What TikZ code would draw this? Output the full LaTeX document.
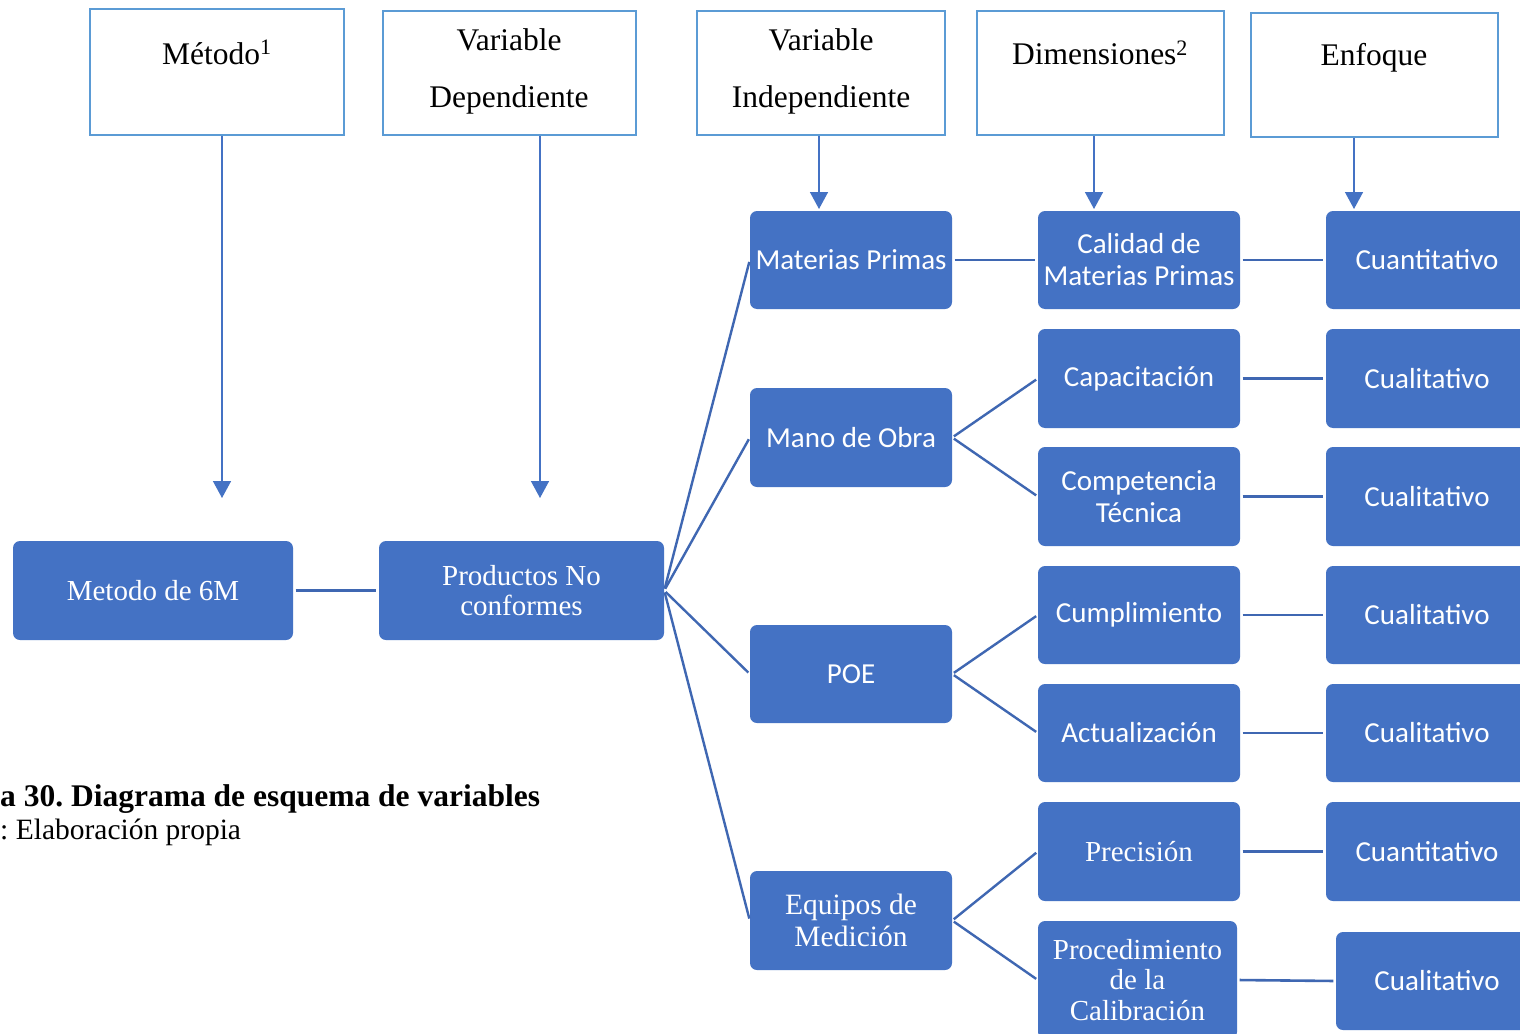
\documentclass[tikz,border=0pt]{standalone}
\usepackage{fontspec}
\setmainfont{Liberation Serif}
\newfontfamily\calibri{Carlito}
\usetikzlibrary{arrows.meta}
\definecolor{boxblue}{HTML}{4472C4}
\definecolor{hdrblue}{HTML}{5B9BD5}
\definecolor{linkblue}{HTML}{3F67B2}
\frenchspacing
\begin{document}
\begin{tikzpicture}[x=1pt,y=-1pt,
  hdrbox/.style={draw=hdrblue,line width=2.6pt,inner sep=0pt},
  hdrtext/.style={anchor=base,inner sep=0pt,font=\fontsize{31.5}{34}\selectfont},
  blk/.style={fill=boxblue,rounded corners=7pt,text=white,align=center,inner sep=0pt,
    minimum width=202pt,minimum height=98pt},
  sans/.style={font=\calibri\fontsize{29}{32}\selectfont},
  serif/.style={font=\fontsize{29}{30.5}\selectfont},
  arr/.style={draw=boxblue,line width=1.5pt,-{Triangle[width=18pt,length=17pt]}},
  link/.style={draw=linkblue,line width=2.6pt,shorten <=2.5pt,shorten >=2.5pt},
  slant/.style={draw=linkblue,line width=2.4pt,shorten <=2pt,shorten >=2pt}]
\useasboundingbox (0,0) rectangle (1520,1033);
\clip (0,0) rectangle (1520,1033);
\fill[white] (0,0) rectangle (1520,1033);

% header boxes
\node[hdrbox,minimum width=254pt,minimum height=126pt] (h1) at (217,72) {};
\node[hdrbox,minimum width=253pt,minimum height=124pt] (h2) at (509.5,73) {};
\node[hdrbox,minimum width=248pt,minimum height=124pt] (h3) at (821,73) {};
\node[hdrbox,minimum width=247pt,minimum height=124pt] (h4) at (1100.5,73) {};
\node[hdrbox,minimum width=247pt,minimum height=124pt] (h5) at (1374.5,75) {};

% header labels
\node[hdrtext] (t1) at (217,64) {Método\textsuperscript{1}};
\node[hdrtext] (t2a) at (509,51) {Variable};
\node[hdrtext] (t2b) at (509,107) {Dependiente};
\node[hdrtext] (t3a) at (821,51) {Variable};
\node[hdrtext] (t3b) at (821,107) {Independiente};
\node[hdrtext] (t4) at (1100,65) {Dimensiones\textsuperscript{2}};
\node[hdrtext] (t5) at (1374,66) {Enfoque};

% arrow ends
\coordinate (a1) at (222,498);
\coordinate (a2) at (540,498);
\coordinate (a3) at (819,209);
\coordinate (a4) at (1094,209);
\coordinate (a5) at (1354,209);
\draw[arr] (h1.south -| a1) -- (a1);
\draw[arr] (h2.south -| a2) -- (a2);
\draw[arr] (h3.south -| a3) -- (a3);
\draw[arr] (h4.south -| a4) -- (a4);
\draw[arr] (h5.south -| a5) -- (a5);

% main boxes
\node[blk,serif,minimum width=280pt,minimum height=99pt] (m6) at (153,590.5) {Metodo de 6M};
\node[blk,serif,minimum width=285pt,minimum height=99pt] (pnc) at (521.5,590.5) {Productos No\\conformes};

% the four M's
\node[blk,sans] (mp) at (851,260) {Materias Primas};
\node[blk,sans,minimum height=99pt] (mo) at (851,437.5) {Mano de Obra};
\node[blk,sans] (poe) at (851,674) {POE};
\node[blk,serif,minimum height=99pt,font=\fontsize{29.5}{32}\selectfont] (eq) at (851,920.5) {Equipos de\\Medición};

% dimensions
\node[blk,sans] (d1) at (1139,260) {Calidad de\\Materias Primas};
\node[blk,sans,minimum height=99pt] (d2) at (1139,378.5) {Capacitación};
\node[blk,sans,minimum height=99pt] (d3) at (1139,496.5) {Competencia\\Técnica};
\node[blk,sans] (d4) at (1139,615) {Cumplimiento};
\node[blk,sans] (d5) at (1139,733) {Actualización};
\node[blk,serif,minimum height=99pt] (d6) at (1139,851.5) {Precisión};
\node[blk,serif,minimum width=199pt,minimum height=118pt] (d7) at (1137.5,980) {Procedimiento\\de la\\Calibración};

% approach
\node[blk,sans] (e1) at (1427,260) {Cuantitativo};
\node[blk,sans,minimum height=99pt] (e2) at (1427,378.5) {Cualitativo};
\node[blk,sans,minimum height=99pt] (e3) at (1427,496.5) {Cualitativo};
\node[blk,sans] (e4) at (1427,615) {Cualitativo};
\node[blk,sans] (e5) at (1427,733) {Cualitativo};
\node[blk,sans,minimum height=99pt] (e6) at (1427,851.5) {Cuantitativo};
\node[blk,sans] (e7) at (1437,981) {Cualitativo};

% connectors
\draw[link] (m6.east) -- (pnc.west);
\draw[slant] (pnc.east) -- (mp.west);
\draw[slant] (pnc.east) -- (mo.west);
\draw[slant] (pnc.east) -- (poe.west);
\draw[slant] (pnc.east) -- (eq.west);
\draw[link] (mp.east) -- (d1.west);
\draw[slant] (mo.east) -- (d2.west);
\draw[slant] (mo.east) -- (d3.west);
\draw[slant] (poe.east) -- (d4.west);
\draw[slant] (poe.east) -- (d5.west);
\draw[slant] (eq.east) -- (d6.west);
\draw[slant] (eq.east) -- (d7.west);
\draw[link] (d1.east) -- (e1.west);
\draw[link] (d2.east) -- (e2.west);
\draw[link] (d3.east) -- (e3.west);
\draw[link] (d4.east) -- (e4.west);
\draw[link] (d5.east) -- (e5.west);
\draw[link] (d6.east) -- (e6.west);
\draw[link] (d7.east) -- (e7.west);

% caption
\node[anchor=base west,inner sep=0pt,font=\bfseries\fontsize{31.5}{34}\selectfont] (cap1) at (0,806) {a 30. Diagrama de esquema de variables};
\node[anchor=base west,inner sep=0pt,font=\fontsize{29.5}{32}\selectfont] (cap2) at (0,839) {: Elaboración propia};
\end{tikzpicture}
\end{document}
